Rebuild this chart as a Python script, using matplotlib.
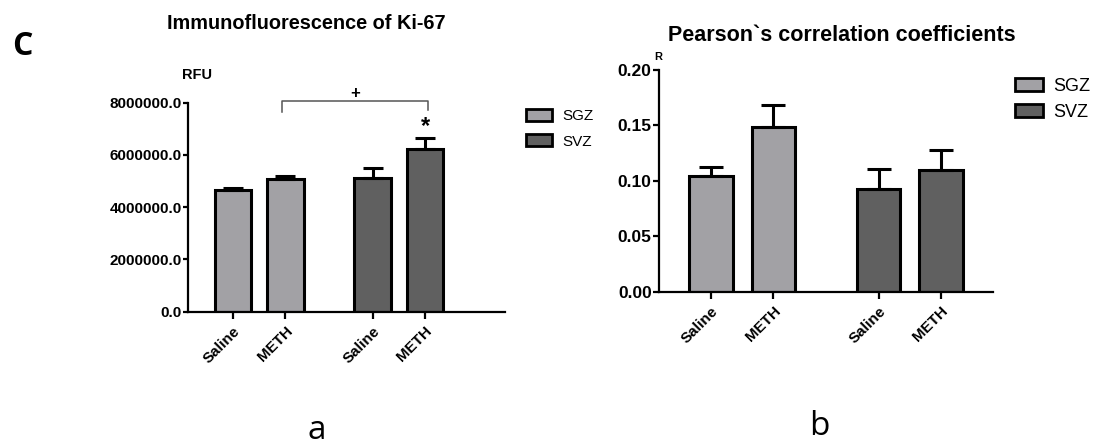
import matplotlib
matplotlib.use("Agg")
import matplotlib.pyplot as plt
from matplotlib.patches import Patch

# --- data ---
groups = ["SGZ", "SVZ"]
tick_labels = ["Saline", "METH", "Saline", "METH"]

rfu_mean = [4660000, 5070000, 5130000, 6240000]
rfu_err = [60000, 110000, 370000, 420000]

pearson_mean = [0.1044, 0.1486, 0.0929, 0.1098]
pearson_err = [0.0084, 0.0199, 0.0175, 0.0180]

light = "#a2a1a5"
dark = "#606060"
bar_colors = [light, light, dark, dark]

plt.rcParams["font.family"] = ["Liberation Sans", "DejaVu Sans"]

fig = plt.figure(figsize=(10.96, 4.47), dpi=100)


def style_axes(ax, xpos, ysize, ylen):
    for s in ["top", "right"]:
        ax.spines[s].set_visible(False)
    for s in ["left", "bottom"]:
        ax.spines[s].set_linewidth(1.6)
    ax.tick_params(axis="y", direction="out", length=ylen, width=1.6,
                   labelsize=ysize, pad=1)
    ax.tick_params(axis="x", direction="out", length=5, width=1.6, pad=4)
    for lab in ax.get_yticklabels():
        lab.set_fontweight("bold")
    ax.set_xticks(xpos)
    ax.set_xticklabels(tick_labels, rotation=45, ha="right",
                       rotation_mode="anchor", fontsize=11, fontweight="bold")


def add_legend(ax, size, hlen, hheight, hpad, spacing, anchor):
    handles = [Patch(facecolor=c, edgecolor="black", linewidth=2) for c in (light, dark)]
    ax.legend(handles, groups, loc="upper left", bbox_to_anchor=anchor,
              bbox_transform=fig.transFigure, frameon=False, fontsize=size,
              handlelength=hlen, handleheight=hheight, handletextpad=hpad,
              labelspacing=spacing, borderaxespad=0, borderpad=0)


# --- panel a ---
xa = [0, 1, 2.66, 3.66]
ax1 = fig.add_axes([0.1715, 0.3027, 0.2892, 0.4676])
ax1.bar(xa, rfu_mean, width=0.7, color=bar_colors, edgecolor="black",
        linewidth=2.2, yerr=[[0] * 4, rfu_err],
        error_kw=dict(ecolor="black", elinewidth=2.2, capsize=7.2, capthick=2.2))
ax1.set_xlim(-0.857, 5.18)
ax1.set_ylim(0, 8000000)
ax1.set_yticks([0, 2000000, 4000000, 6000000, 8000000])
ax1.set_yticklabels([f"{v:.1f}" for v in ax1.get_yticks()])
style_axes(ax1, xa, 11, 3.6)

# significance bracket METH SGZ vs METH SVZ
ax1.plot([xa[1] - 0.07, xa[1] - 0.07, xa[3] + 0.05, xa[3] + 0.05],
         [7650000, 8070000, 8070000, 7720000], color="#555555", lw=1.1,
         clip_on=False)
ax1.text((xa[1] + xa[3]) / 2, 8370000, "+", ha="center", va="center",
         fontsize=12, fontweight="bold")
ax1.text(xa[3], 7080000, "*", ha="center", va="center",
         fontsize=17, fontweight="bold")

add_legend(ax1, 11, 1.7, 0.85, 0.65, 0.7, (0.480, 0.756))

# --- panel b ---
xb = [0, 1, 2.68, 3.68]
ax2 = fig.add_axes([0.6013, 0.3474, 0.3047, 0.496])
ax2.bar(xb, pearson_mean, width=0.7, color=bar_colors, edgecolor="black",
        linewidth=2.2, yerr=[[0] * 4, pearson_err],
        error_kw=dict(ecolor="black", elinewidth=2.2, capsize=8.3, capthick=2.2))
ax2.set_xlim(-0.83, 4.51)
ax2.set_ylim(0, 0.20)
ax2.set_yticks([0, 0.05, 0.10, 0.15, 0.20])
ax2.set_yticklabels([f"{v:.2f}" for v in ax2.get_yticks()])
style_axes(ax2, xb, 12.5, 4.3)

add_legend(ax2, 13, 1.55, 0.72, 0.55, 0.46, (0.926, 0.825))

# --- text ---
fig.text(0.2792, 0.9485, "Immunofluorescence of Ki-67", ha="center",
         va="center", fontsize=14.3, fontweight="bold")
fig.text(0.7682, 0.9217, "Pearson`s correlation coefficients", ha="center",
         va="center", fontsize=15.5, fontweight="bold")
fig.text(0.1797, 0.8322, "RFU", ha="center", va="center", fontsize=10.5,
         fontweight="bold")
fig.text(0.6004, 0.8725, "R", ha="center", va="center", fontsize=8,
         fontweight="bold")
fig.text(0.0201, 0.8949, "C", ha="center", va="center", fontsize=23,
         fontweight="bold", family=["Open Sans", "DejaVu Sans"])
fig.text(0.2892, 0.038, "a", ha="center", va="center", fontsize=24,
         family=["Open Sans", "DejaVu Sans"])
fig.text(0.7473, 0.046, "b", ha="center", va="center", fontsize=24,
         family=["Open Sans", "DejaVu Sans"])

fig.savefig("out.png", dpi=100, facecolor="white")
